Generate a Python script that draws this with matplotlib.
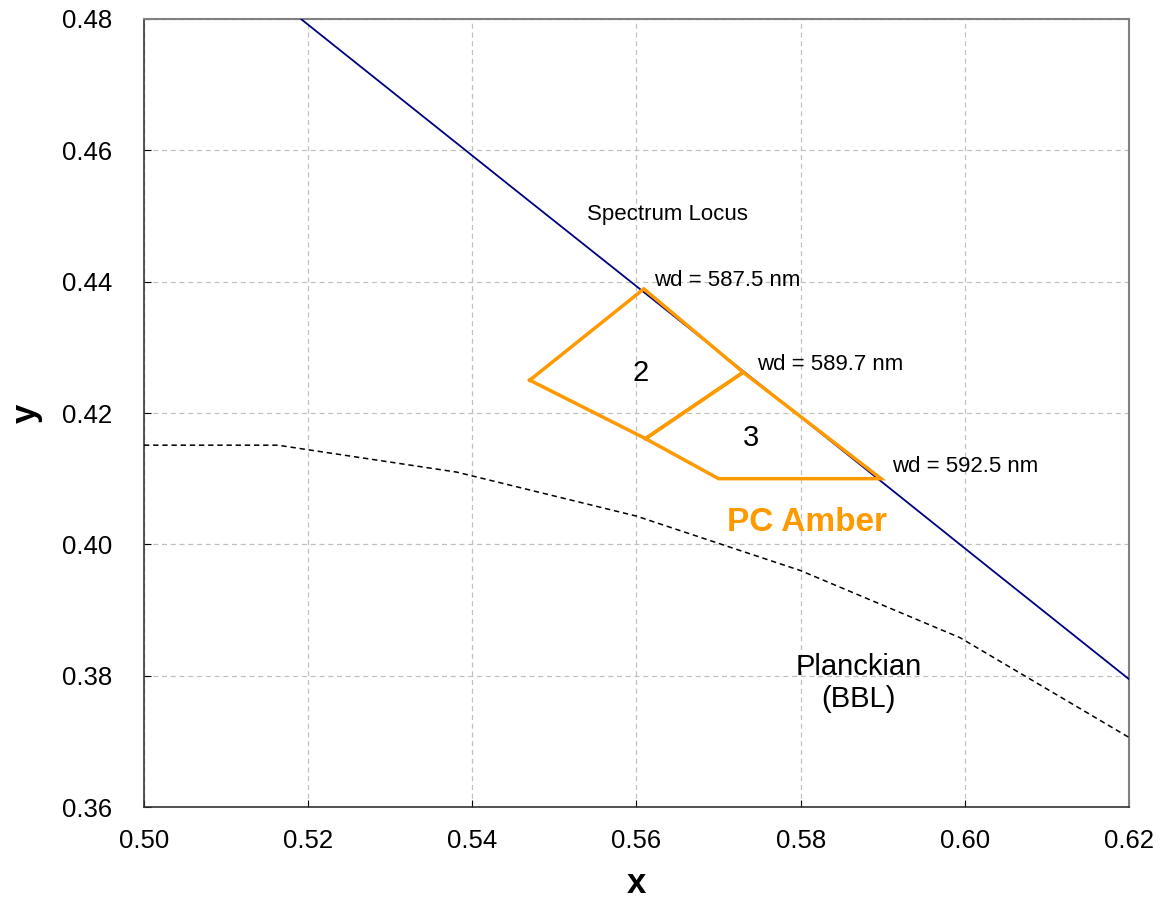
"""PC Amber colour bins on the CIE 1931 chromaticity diagram (zoomed view)."""

import matplotlib
matplotlib.use("Agg")  # headless
import matplotlib.pyplot as plt
from matplotlib.ticker import FormatStrFormatter

plt.rcParams["font.family"] = ["Liberation Sans", "DejaVu Sans"]

# spectrum locus (CIE 1931 2 deg), 580..600 nm
LOCUS_X = [0.5125, 0.5448, 0.5752, 0.6029, 0.6270]
LOCUS_Y = [0.4866, 0.4544, 0.4242, 0.3965, 0.3725]

# Planckian locus (black body line)
BBL_X = [0.5000, 0.5163, 0.5381, 0.5600, 0.5800, 0.5994, 0.6200]
BBL_Y = [0.4151, 0.4151, 0.4110, 0.4043, 0.3960, 0.3858, 0.3706]

# PC Amber bins
BIN2_X = [0.5470, 0.5609, 0.5730, 0.5611, 0.5470]
BIN2_Y = [0.4250, 0.4389, 0.4262, 0.4161, 0.4250]
BIN3_X = [0.5611, 0.5730, 0.5898, 0.5700, 0.5611]
BIN3_Y = [0.4161, 0.4262, 0.4100, 0.4100, 0.4161]

# dominant wavelength labels at the locus corners
WD_LABELS = ["wd = 587.5 nm", "wd = 589.7 nm", "wd = 592.5 nm"]
WD_X = [0.5622, 0.5747, 0.5911]
WD_Y = [0.4402, 0.4274, 0.4118]

AMBER = "#ff9900"

fig = plt.figure(figsize=(11.61, 8.99), dpi=100)
ax = fig.add_axes([0.124, 0.1023, 0.8484, 0.8766])

ax.plot(LOCUS_X, LOCUS_Y, color="#000080", lw=1.3, zorder=3)
ax.plot(BBL_X, BBL_Y, color="black", lw=1.1, ls=(0, (3.5, 2.5)), zorder=3)
ax.plot(BIN2_X, BIN2_Y, color=AMBER, lw=2.5, zorder=4, solid_joinstyle="miter")
ax.plot(BIN3_X, BIN3_Y, color=AMBER, lw=2.5, zorder=4, solid_joinstyle="miter")

for lab, x, y in zip(WD_LABELS, WD_X, WD_Y):
    ax.text(x, y, lab, fontsize=16, ha="left", va="center")

ax.text(0.5638, 0.4503, "Spectrum Locus", fontsize=16, ha="center", va="center")
ax.text(0.5605, 0.4261, "2", fontsize=21, ha="center", va="center")
ax.text(0.5739, 0.4162, "3", fontsize=21, ha="center", va="center")
ax.text(0.5808, 0.4034, "PC Amber", fontsize=24, fontweight="bold",
        color=AMBER, ha="center", va="center")
ax.text(0.5871, 0.3789, "Planckian\n(BBL)", fontsize=21, ha="center", va="center",
        linespacing=1.2)

ax.set_xlim(0.50, 0.62)
ax.set_ylim(0.36, 0.48)
ax.set_xticks([0.50, 0.52, 0.54, 0.56, 0.58, 0.60, 0.62])
ax.set_yticks([0.36, 0.38, 0.40, 0.42, 0.44, 0.46, 0.48])
ax.xaxis.set_major_formatter(FormatStrFormatter("%.2f"))
ax.yaxis.set_major_formatter(FormatStrFormatter("%.2f"))
ax.tick_params(direction="in", length=5, labelsize=18.5)
ax.tick_params(axis="x", pad=16)
ax.tick_params(axis="y", pad=23)
ax.grid(True, color="#c0c0c0", ls=(0, (4, 3)), lw=0.9)
ax.set_axisbelow(True)

for side in ("top", "right"):
    ax.spines[side].set_color("#808080")
    ax.spines[side].set_linewidth(1.5)
for side in ("left", "bottom"):
    ax.spines[side].set_color("#333333")
    ax.spines[side].set_linewidth(1.2)

ax.set_xlabel("x", fontsize=25, fontweight="bold", labelpad=10)
ax.set_ylabel("y", fontsize=25, fontweight="bold", labelpad=14)

fig.savefig("out.png", dpi=100)
